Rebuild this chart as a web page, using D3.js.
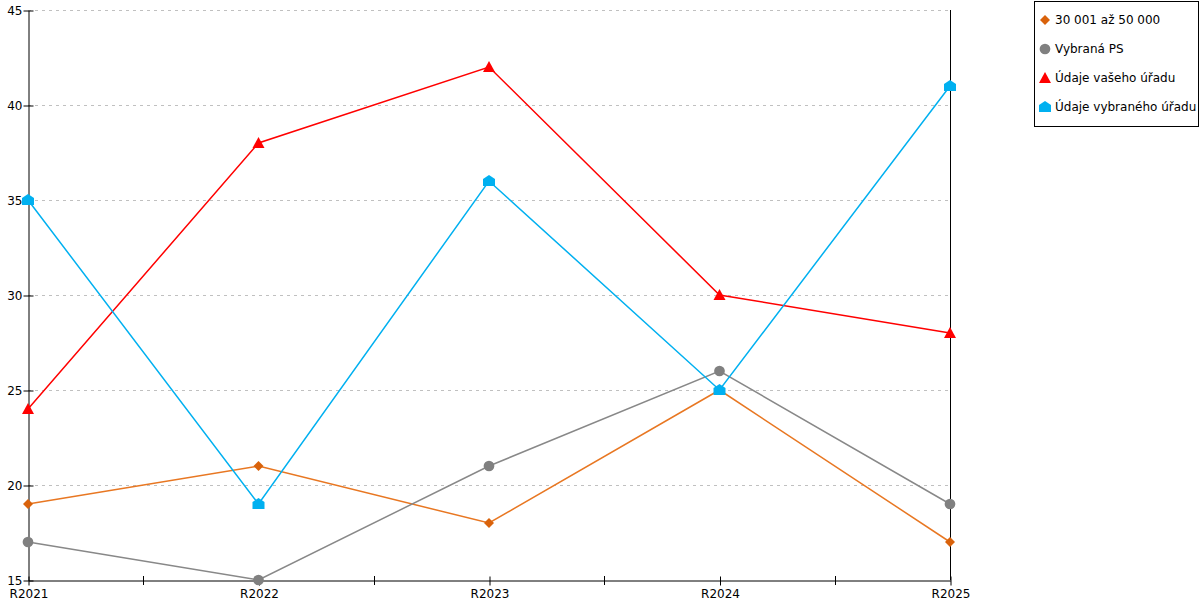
<!DOCTYPE html>
<html><head><meta charset="utf-8">
<script src="https://cdn.jsdelivr.net/npm/d3@7"></script>
<style>body{margin:0;background:#fff}svg{display:block}text{font-family:"DejaVu Sans",Verdana,sans-serif;font-size:12px;fill:#000}</style>
</head><body>
<svg id="c" width="1200" height="600"></svg>
<script>
const categories = ["R2021","R2022","R2023","R2024","R2025"];
const yTicks = [15,20,25,30,35,40,45];
const seriesNames = ["30 001 až 50 000","Vybraná PS","Údaje vašeho úřadu","Údaje vybraného úřadu"];
const seriesColors = ["#E87722","#888888","#FF0000","#00B0F0"];
const markerColors = ["#D9620B","#808080","#FF0000","#00B0F0"];
const markerShapes = ["diamond","circle","triangle","house"];
const valuesRange = [19,21,18,25,17];
const valuesPS = [17,15,21,26,19];
const valuesOffice = [24,38,42,30,28];
const valuesSelected = [35,19,36,25,41];
const seriesValues = [valuesRange, valuesPS, valuesOffice, valuesSelected];

const svg = d3.select("#c");
const x = d3.scalePoint().domain(categories).range([28,950]);
const y = d3.scaleLinear().domain([15,45]).range([580,10]);

// gridlines
svg.append("g").selectAll("line").data(yTicks.filter(t=>t>15)).join("line")
  .attr("x1",28).attr("x2",950).attr("y1",d=>y(d)+0.5).attr("y2",d=>y(d)+0.5)
  .attr("stroke","#c0c0c0").attr("stroke-dasharray","3,4").attr("stroke-width",1);

// right border line
svg.append("line").attr("x1",950.5).attr("x2",950.5).attr("y1",10).attr("y2",580).attr("stroke","#000");

// y axis
const ya = svg.append("g").attr("transform","translate(28.5,0.5)")
  .call(d3.axisLeft(y).tickValues(yTicks).tickSize(5).tickSizeOuter(0).tickPadding(3));
ya.select(".domain").attr("stroke","#000");
ya.selectAll(".tick line").attr("x2",5).attr("x1",-5).attr("stroke","#000");
ya.selectAll("text").style("font-family","DejaVu Sans, Verdana, sans-serif").style("font-size","12px").attr("x",-6);

// x axis
const xa = svg.append("g").attr("transform","translate(0.5,580.5)")
  .call(d3.axisBottom(x).tickSize(5).tickSizeOuter(0).tickPadding(5));
xa.select(".domain").attr("stroke","#000");
xa.selectAll(".tick line").attr("y1",-4).attr("y2",5).attr("stroke","#000");
xa.selectAll("text").style("font-family","DejaVu Sans, Verdana, sans-serif").style("font-size","12px").attr("dy","0.6em");
// mid ticks
const mids = categories.slice(1).map((c,i)=>(x(categories[i])+x(c))/2);
svg.append("g").selectAll("line").data(mids).join("line")
  .attr("x1",d=>Math.round(d)+0.5).attr("x2",d=>Math.round(d)+0.5).attr("y1",576).attr("y2",585).attr("stroke","#000");

function markerPath(shape){
  if(shape==="diamond") return "M0,-5L5,0L0,5L-5,0Z";
  if(shape==="circle") return d3.symbol(d3.symbolCircle, 90)();
  if(shape==="triangle") return "M0,-6L6,5L-6,5Z";
  if(shape==="house") return "M0,-6L6,-2L6,5L-6,5L-6,-2Z";
}

const line = d3.line().x((d,i)=>x(categories[i])).y(d=>y(d));
seriesValues.forEach((vals,s)=>{
  svg.append("path").datum(vals).attr("d",line).attr("fill","none")
    .attr("stroke",seriesColors[s]).attr("stroke-width",1.5);
});
seriesValues.forEach((vals,s)=>{
  svg.append("g").selectAll("path").data(vals).join("path")
    .attr("transform",(d,i)=>`translate(${x(categories[i])},${y(d)})`)
    .attr("d",markerPath(markerShapes[s])).attr("fill",markerColors[s]);
});

// legend
const lg = svg.append("g");
lg.append("rect").attr("x",1034.5).attr("y",1.5).attr("width",164).attr("height",125)
  .attr("fill","#fff").attr("stroke","#000");
seriesNames.forEach((n,i)=>{
  const cy = 20 + i*29;
  lg.append("path").attr("transform",`translate(1045,${cy})`).attr("d",markerPath(markerShapes[i])).attr("fill",markerColors[i]);
  lg.append("text").attr("x",1055).attr("y",cy).attr("dy","0.35em").text(n);
});
</script>
</body></html>
